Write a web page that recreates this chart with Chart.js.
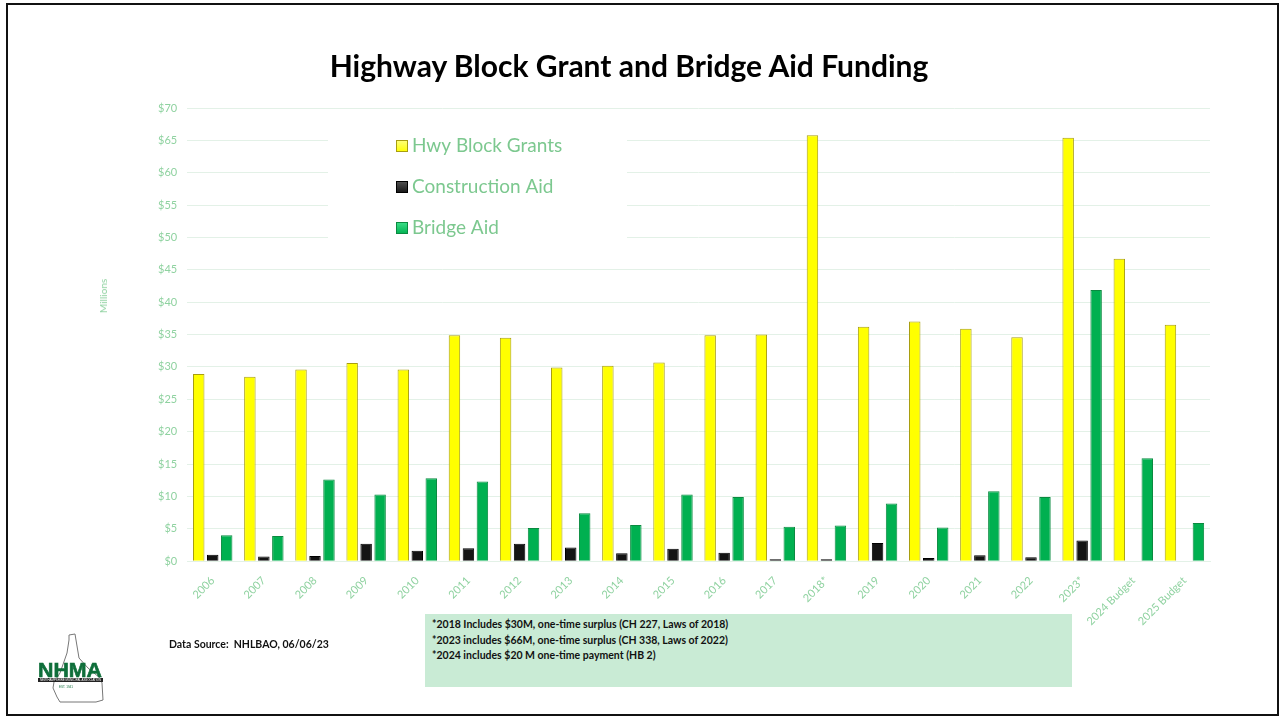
<!DOCTYPE html>
<html>
<head>
<meta charset="utf-8">
<script src="https://cdn.jsdelivr.net/npm/chart.js@4.4.0/dist/chart.umd.min.js"></script>
<style>
body { margin:0; background:#fff; width:1283px; height:721px; overflow:hidden; position:relative; font-family:Lato, "Open Sans", sans-serif; }
#frame { position:absolute; left:6px; top:3px; width:1273px; height:713px; border:2px solid #111; box-sizing:border-box; }
#chart { position:absolute; left:0; top:0; }
#title { position:absolute; left:0; width:1258px; top:47px; text-align:center; font-weight:bold; font-size:30px; color:#000; }
#millions { position:absolute; left:103px; top:296px; transform:translate(-50%,-50%) rotate(-90deg); font-size:10px; color:#8fd2a0; }
#source { position:absolute; left:169px; top:638px; font-size:10.5px; font-weight:bold; color:#111; }
#notes { position:absolute; left:425px; top:614px; width:647px; height:73px; background:#c9ebd5; box-sizing:border-box; padding:3px 0 0 7px; font-size:10.5px; font-weight:bold; line-height:15.5px; color:#111; }
#logo { position:absolute; left:30px; top:628px; }
</style>
</head>
<body>
<div id="frame"></div>
<canvas id="chart" width="1283" height="721"></canvas>
<div id="title">Highway Block Grant and Bridge Aid Funding</div>
<div id="millions">Millions</div>
<div id="source">Data Source:&nbsp; NHLBAO, 06/06/23</div>
<div id="notes">*2018 Includes $30M, one-time surplus (CH 227, Laws of 2018)<br>*2023 includes $66M, one-time surplus (CH 338, Laws of 2022)<br>*2024 includes $20 M one-time payment (HB 2)</div>
<svg id="logo" width="82" height="76" viewBox="0 0 82 76">
  <path d="M39 7 L45 6 L47 18 L49 30 L58 40 L70 50 L72 55 L73 72 L66 74 L30 74 L27 69 L23 60 L24 54 L30 45 L37 25 L39 12 Z" fill="none" stroke="#777" stroke-width="1"/>
  <text x="40" y="49" text-anchor="middle" font-family="Liberation Sans, Arial, sans-serif" font-weight="900" font-size="20" fill="#0f6e3a" stroke="#0f6e3a" stroke-width="0.6" textLength="64" lengthAdjust="spacingAndGlyphs">NHMA</text>
  <rect x="8" y="50" width="65" height="4" fill="#222"/>
  <text x="40.5" y="53.2" text-anchor="middle" font-family="Liberation Sans, sans-serif" font-size="3" fill="#fff" textLength="61" lengthAdjust="spacingAndGlyphs">NEW HAMPSHIRE MUNICIPAL ASSOCIATION</text>
  <text x="36" y="60" text-anchor="middle" font-family="Liberation Sans, sans-serif" font-size="3" fill="#0f6e3a">EST. 1941</text>
</svg>
<script>
const years = ['2006','2007','2008','2009','2010','2011','2012','2013','2014','2015',
  '2016','2017','2018*','2019','2020','2021','2022','2023*','2024 Budget','2025 Budget'];
const hwyBlockGrants = [28.9,28.5,29.6,30.6,29.6,34.9,34.5,29.9,30.2,30.7,34.9,35.0,65.8,36.2,37.0,35.9,34.6,65.4,46.7,36.5];
const constructionAid = [1.0,0.7,0.8,2.7,1.6,2.0,2.7,2.1,1.2,1.9,1.3,0.3,0.3,2.8,0.5,0.9,0.6,3.2,null,null];
const bridgeAid = [4.0,3.9,12.6,10.3,12.8,12.3,5.1,7.4,5.6,10.3,9.9,5.3,5.5,8.9,5.2,10.8,9.9,41.9,15.9,5.9];
const seriesNames = ['Hwy Block Grants','Construction Aid','Bridge Aid'];

const tickGreen = '#8fd2a0';
const gridColor = '#e3f1e7';

// legend drawn inside the plot, on a white box that hides the grid lines
const boxLegend = {
  id: 'boxLegend',
  afterDraw(chart) {
    const c = chart.ctx;
    c.save();
    c.fillStyle = '#fff';
    c.fillRect(328, 118, 299, 140);
    chart.data.datasets.forEach((ds, i) => {
      const y = 146 + i * 41;
      const g = c.createLinearGradient(0, y - 6, 0, y + 6);
      g.addColorStop(0, ds.topColor);
      g.addColorStop(1, ds.backgroundColor);
      c.fillStyle = g;
      c.fillRect(396, y - 6, 12, 12);
      c.strokeStyle = ds.borderColor;
      c.lineWidth = 1;
      c.strokeRect(396.5, y - 5.5, 11, 11);
      c.fillStyle = '#7cc88f';
      c.font = '19px Lato, "Open Sans", sans-serif';
      c.textBaseline = 'middle';
      c.fillText(ds.label, 412, y);
    });
    c.restore();
  }
};

new Chart(document.getElementById('chart'), {
  type: 'bar',
  data: {
    labels: years,
    datasets: [
      { label: seriesNames[0], data: hwyBlockGrants, backgroundColor: '#ffff00', topColor: '#ffff80', borderColor: '#a89e10', borderWidth: 1 },
      { label: seriesNames[1], data: constructionAid, backgroundColor: '#141414', topColor: '#555555', borderColor: '#000', borderWidth: 1 },
      { label: seriesNames[2], data: bridgeAid, backgroundColor: '#00b050', topColor: '#3ee08a', borderColor: '#0a8a40', borderWidth: 1 }
    ]
  },
  options: {
    responsive: false,
    devicePixelRatio: 1,
    animation: false,
    categoryPercentage: 0.82,
    barPercentage: 0.82,
    layout: { padding: { left: 148, right: 73, top: 108, bottom: 88 } },
    plugins: { legend: { display: false }, tooltip: { enabled: false } },
    scales: {
      x: {
        grid: { display: false },
        border: { color: gridColor },
        ticks: { color: tickGreen, font: { size: 11, family: 'Lato, "Open Sans", sans-serif' }, minRotation: 45, maxRotation: 45, autoSkip: false, padding: 5 }
      },
      y: {
        min: 0, max: 70,
        grid: { color: gridColor, drawTicks: false },
        border: { display: false },
        ticks: { stepSize: 5, padding: 10, color: tickGreen, font: { size: 11, family: 'Lato, "Open Sans", sans-serif' }, callback: v => '$' + v }
      }
    }
  },
  plugins: [boxLegend]
});
</script>
</body>
</html>
